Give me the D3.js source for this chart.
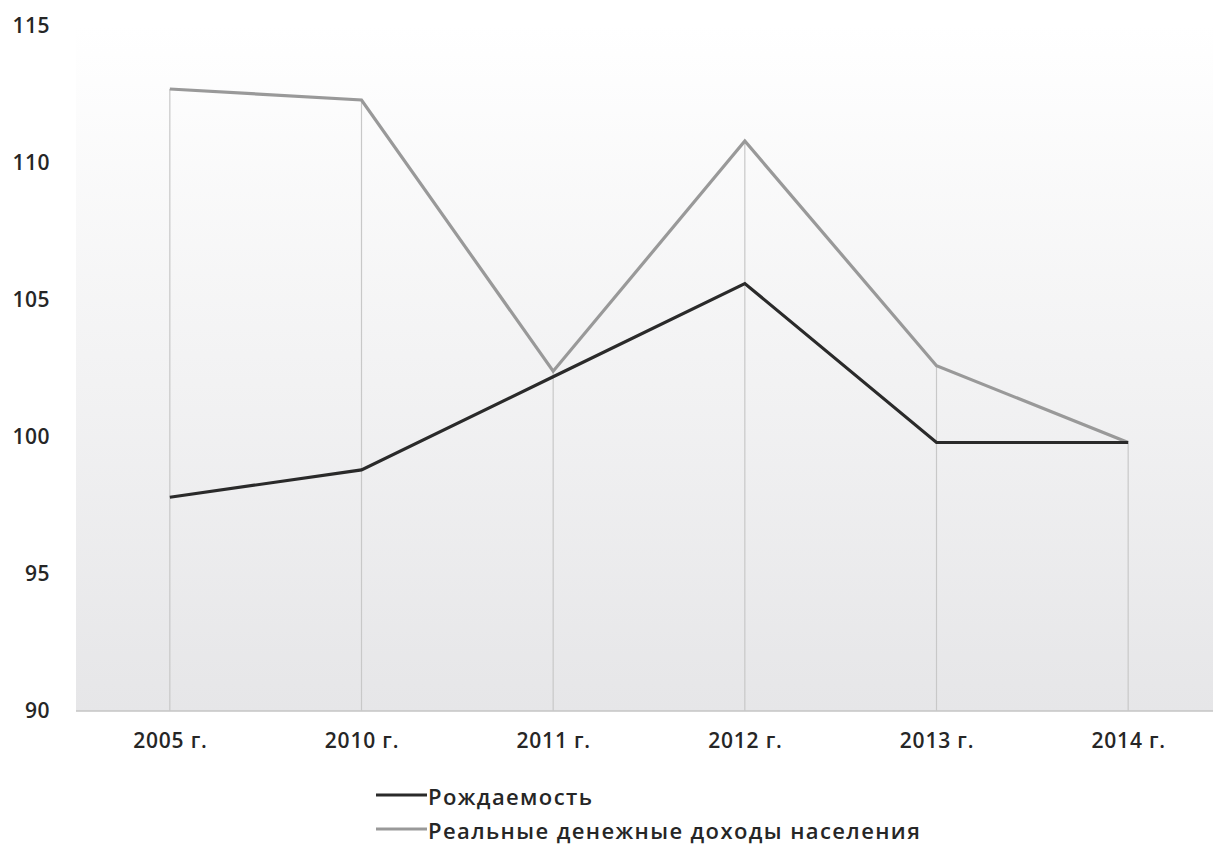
<!DOCTYPE html>
<html><head><meta charset="utf-8">
<script src="https://cdn.jsdelivr.net/npm/d3@7"></script>
<style>html,body{margin:0;padding:0;background:#fff;}svg{display:block;font-family:"Open Sans",sans-serif;}</style>
</head><body>
<svg id="c" width="1213" height="846"></svg>
<script>
const categories = ["2005 г.","2010 г.","2011 г.","2012 г.","2013 г.","2014 г."];
const birthRate = [97.8, 98.8, 102.2, 105.6, 99.8, 99.8];
const realIncome = [112.7, 112.3, 102.4, 110.8, 102.6, 99.8];
const yTicks = [90, 95, 100, 105, 110, 115];
const seriesNames = ["Рождаемость", "Реальные денежные доходы населения"];

const svg = d3.select("#c");
const x = d3.scalePoint().domain(categories).range([74, 1224]).padding(0.5);
const y = d3.scaleLinear().domain([90, 115]).range([711, 26]);

const defs = svg.append("defs");
const g = defs.append("linearGradient").attr("id","bg").attr("x1",0).attr("y1",0).attr("x2",0).attr("y2",1);
g.append("stop").attr("offset","0%").attr("stop-color","#ffffff");
g.append("stop").attr("offset","100%").attr("stop-color","#e6e6e8");

svg.append("rect").attr("x",76).attr("y",y(115)).attr("width",1213-76).attr("height",y(90)-y(115)).attr("fill","url(#bg)");

// axis line
svg.append("line").attr("x1",76).attr("x2",1213).attr("y1",y(90)).attr("y2",y(90)).attr("stroke","#c4c4c4").attr("stroke-width",1.5);

// drop lines
categories.forEach((c,i)=>{
  const top = Math.max(birthRate[i], realIncome[i]);
  svg.append("line").attr("x1",x(c)).attr("x2",x(c)).attr("y1",y(top)).attr("y2",y(90))
    .attr("stroke","#c8c8c8").attr("stroke-width",1.2);
});

// y axis labels
const yAxis = d3.axisLeft(y).tickValues(yTicks).tickSize(0).tickPadding(0);
const ya = svg.append("g").attr("transform","translate(50,0)").call(yAxis);
ya.select(".domain").remove();
ya.selectAll("text").attr("font-size",21).attr("fill","#262626").attr("font-family","Open Sans").attr("font-weight",600).attr("letter-spacing",0.5);

// x axis labels
const xAxis = d3.axisBottom(x).tickSize(0).tickPadding(0);
const xa = svg.append("g").attr("transform",`translate(0,${y(90)+22})`).call(xAxis);
xa.select(".domain").remove();
xa.selectAll("text").attr("font-size",21).attr("fill","#262626").attr("font-family","Open Sans").attr("font-weight",600).attr("letter-spacing",0.8);

const line = d3.line().x((d,i)=>x(categories[i])).y(d=>y(d));
svg.append("path").datum(realIncome).attr("d",line).attr("fill","none").attr("stroke","#999").attr("stroke-width",3.2).attr("stroke-linejoin","miter");
svg.append("path").datum(birthRate).attr("d",line).attr("fill","none").attr("stroke","#2a2a2a").attr("stroke-width",3.2).attr("stroke-linejoin","miter");

// legend
const legColors = ["#2a2a2a","#999"];
seriesNames.forEach((n,i)=>{
  const ly = 795 + i*34;
  svg.append("line").attr("x1",376).attr("x2",427).attr("y1",ly).attr("y2",ly).attr("stroke",legColors[i]).attr("stroke-width",3.2);
  svg.append("text").attr("x",428).attr("y",ly+2).attr("dy","0.35em").attr("font-size",22).attr("font-weight",600).attr("letter-spacing",1.4).attr("fill","#262626").text(n);
});
</script>
</body></html>
